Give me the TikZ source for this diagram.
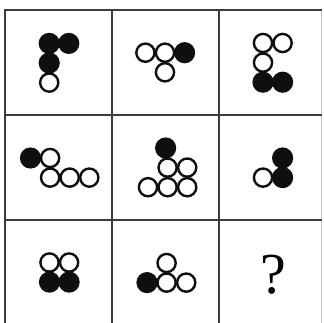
\documentclass[tikz,border=0pt]{standalone}
\usepackage{tikz}
\usepackage{fontspec}
\usetikzlibrary{positioning}
\newfontfamily\qfont{Liberation Serif}
\definecolor{gridGray}{RGB}{60,60,60}
\definecolor{edgeGray}{RGB}{200,200,200}
\definecolor{dotBlack}{RGB}{15,15,15}

% grid step of the dots (pixels)
\newcommand{\dd}{19.6}
\newcommand{\bdot}[2]{\fill[dotBlack] ({#1*\dd},{#2*\dd}) circle (10.6);}
\newcommand{\wdot}[2]{\draw[dotBlack, line width=2.4pt, fill=white] ({#1*\dd},{#2*\dd}) circle (9.1);}

\begin{document}
\begin{tikzpicture}[x=1pt,y=-1pt]
    \useasboundingbox (0,0) rectangle (323,323);
    \fill[white] (0,0) rectangle (323,323);

    % grid
    \draw[edgeGray, line width=1.5pt] (321.5,10) -- (321.5,323);
    \draw[gridGray, line width=2.8pt] (5,323) -- (5,10) -- (322,10);
    \draw[gridGray, line width=2.4pt] (112,10) -- (112,323);
    \draw[gridGray, line width=2.4pt] (219,10) -- (219,323);
    \draw[gridGray, line width=2.4pt] (5,115) -- (322,115);
    \draw[gridGray, line width=2.4pt] (5,220) -- (322,220);

    % row 1
    \begin{scope}[shift={(49.2,43.4)}]
        \bdot{0}{0} \bdot{1}{0} \bdot{0}{1} \wdot{0}{2}
    \end{scope}
    \begin{scope}[shift={(145.4,52.7)}]
        \wdot{0}{0} \wdot{1}{0} \bdot{2}{0} \wdot{1}{1}
    \end{scope}
    \begin{scope}[shift={(263,43)}]
        \wdot{0}{0} \wdot{1}{0} \wdot{0}{1} \bdot{0}{2} \bdot{1}{2}
    \end{scope}

    % row 2
    \begin{scope}[shift={(30.5,158)}]
        \bdot{0}{0} \wdot{1}{0} \wdot{1}{1} \wdot{2}{1} \wdot{3}{1}
    \end{scope}
    \begin{scope}[shift={(148,148)}]
        \bdot{0.9}{0} \wdot{1}{1} \wdot{2}{1} \wdot{0}{2} \wdot{1}{2} \wdot{2}{2}
    \end{scope}
    \begin{scope}[shift={(263,158)}]
        \bdot{1}{0} \bdot{1}{1} \wdot{0}{1}
    \end{scope}

    % row 3
    \begin{scope}[shift={(49.5,262.5)}]
        \wdot{0}{0} \wdot{1}{0} \bdot{0}{1} \bdot{1}{1}
    \end{scope}
    \begin{scope}[shift={(147,263)}]
        \wdot{1}{0} \bdot{0}{1} \wdot{1}{1} \wdot{2}{1}
    \end{scope}

    % missing figure
    \node (qmark) at (273.5,275) {\qfont\fontsize{58}{60}\selectfont ?};
\end{tikzpicture}
\end{document}
